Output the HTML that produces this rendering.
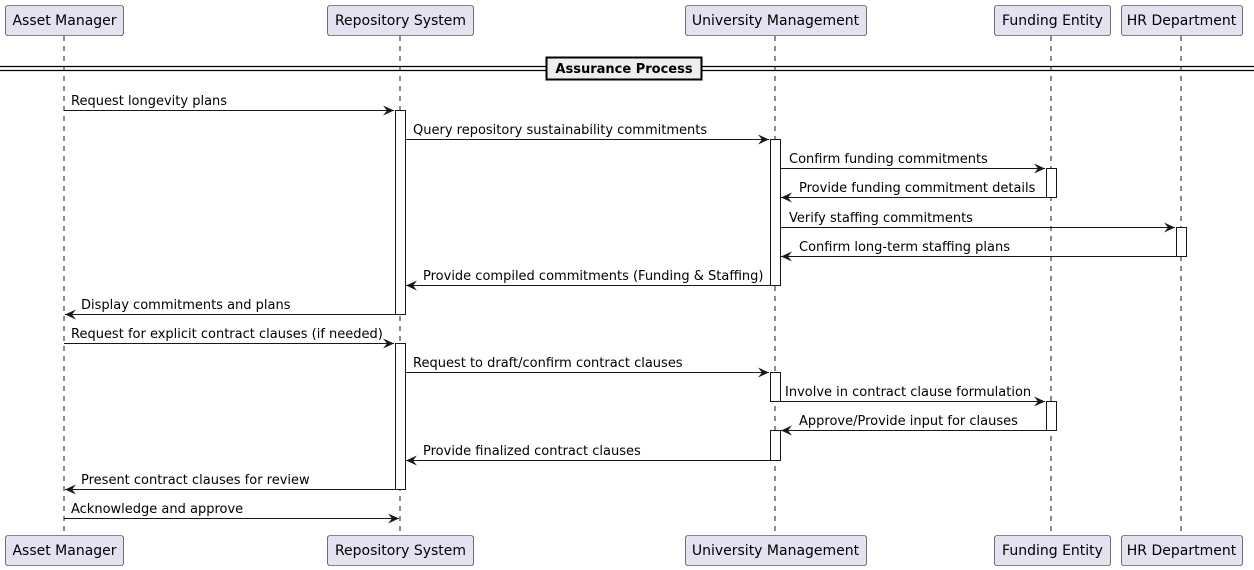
<!DOCTYPE html>
<html><head><meta charset="utf-8"><style>
html,body{margin:0;padding:0;background:#fff;}
svg{display:block;font-family:"DejaVu Sans","Liberation Sans",sans-serif;}
</style></head><body>
<svg width="1254" height="570" viewBox="0 0 1254 570" xmlns="http://www.w3.org/2000/svg">
<defs>
<marker id="a" markerWidth="12" markerHeight="10" refX="11" refY="5" orient="auto" markerUnits="userSpaceOnUse">
<path d="M0,0 L11,5 L0,10 L4,5 Z" fill="#181818"/>
</marker>
</defs>
<g stroke="#181818" stroke-width="1" stroke-dasharray="5,5">
<line x1="64" y1="36" x2="64" y2="535"/>
<line x1="400" y1="36" x2="400" y2="535"/>
<line x1="775" y1="36" x2="775" y2="535"/>
<line x1="1051" y1="36" x2="1051" y2="535"/>
<line x1="1181" y1="36" x2="1181" y2="535"/>
</g>
<g fill="#E2E2F0" stroke="#181818" stroke-width="0.6">
<rect x="5.5" y="5.5" width="118" height="30" rx="2.5"/>
<rect x="327.5" y="5.5" width="146" height="30" rx="2.5"/>
<rect x="685.5" y="5.5" width="181" height="30" rx="2.5"/>
<rect x="994.5" y="5.5" width="116" height="30" rx="2.5"/>
<rect x="1121.5" y="5.5" width="121" height="30" rx="2.5"/>
<rect x="5.5" y="535.5" width="118" height="30" rx="2.5"/>
<rect x="327.5" y="535.5" width="146" height="30" rx="2.5"/>
<rect x="685.5" y="535.5" width="181" height="30" rx="2.5"/>
<rect x="994.5" y="535.5" width="116" height="30" rx="2.5"/>
<rect x="1121.5" y="535.5" width="121" height="30" rx="2.5"/>
</g>
<g font-size="14" fill="#000" text-anchor="middle">
<text x="64.5" y="25">Asset Manager</text>
<text x="400.5" y="25">Repository System</text>
<text x="775.5" y="25">University Management</text>
<text x="1052.5" y="25">Funding Entity</text>
<text x="1181.5" y="25">HR Department</text>
<text x="64.5" y="555">Asset Manager</text>
<text x="400.5" y="555">Repository System</text>
<text x="775.5" y="555">University Management</text>
<text x="1052.5" y="555">Funding Entity</text>
<text x="1181.5" y="555">HR Department</text>
</g>
<g stroke="#000" stroke-width="1.2">
<line x1="0" y1="66.5" x2="1254" y2="66.5"/>
<line x1="0" y1="70.5" x2="1254" y2="70.5"/>
</g>
<rect x="546.5" y="57.5" width="155" height="22" fill="#EEEEEE" stroke="#000" stroke-width="2"/>
<text x="624" y="73" font-size="13" font-weight="bold" text-anchor="middle">Assurance Process</text>
<g fill="#fff" stroke="#181818" stroke-width="1">
<rect x="395.5" y="110.5" width="10" height="204"/>
<rect x="395.5" y="343.5" width="10" height="146"/>
<rect x="770.5" y="139.5" width="10" height="146"/>
<rect x="770.5" y="372.5" width="10" height="29"/>
<rect x="770.5" y="430.5" width="10" height="30"/>
<rect x="1046.5" y="168.5" width="10" height="29"/>
<rect x="1046.5" y="401.5" width="10" height="29"/>
<rect x="1176.5" y="227.5" width="10" height="29"/>
</g>
<g stroke="#181818" stroke-width="1" marker-end="url(#a)">
<line x1="64" y1="110.5" x2="394" y2="110.5"/>
<line x1="405" y1="139.5" x2="769" y2="139.5"/>
<line x1="780" y1="168.5" x2="1045" y2="168.5"/>
<line x1="1046" y1="197.5" x2="781" y2="197.5"/>
<line x1="780" y1="227.5" x2="1175" y2="227.5"/>
<line x1="1176" y1="256.5" x2="781" y2="256.5"/>
<line x1="770" y1="285.5" x2="406" y2="285.5"/>
<line x1="395" y1="314.5" x2="65" y2="314.5"/>
<line x1="64" y1="343.5" x2="394" y2="343.5"/>
<line x1="405" y1="372.5" x2="769" y2="372.5"/>
<line x1="780" y1="401.5" x2="1045" y2="401.5"/>
<line x1="1046" y1="430.5" x2="781" y2="430.5"/>
<line x1="770" y1="460.5" x2="406" y2="460.5"/>
<line x1="395" y1="489.5" x2="65" y2="489.5"/>
<line x1="64" y1="518.5" x2="399" y2="518.5"/>
</g>
<g font-size="13" fill="#000">
<text x="71" y="105">Request longevity plans</text>
<text x="413" y="134">Query repository sustainability commitments</text>
<text x="789" y="163">Confirm funding commitments</text>
<text x="799" y="192">Provide funding commitment details</text>
<text x="789" y="222">Verify staffing commitments</text>
<text x="799" y="251">Confirm long-term staffing plans</text>
<text x="423" y="280">Provide compiled commitments (Funding &amp; Staffing)</text>
<text x="81" y="309">Display commitments and plans</text>
<text x="71" y="338">Request for explicit contract clauses (if needed)</text>
<text x="413" y="367">Request to draft/confirm contract clauses</text>
<text x="785" y="396">Involve in contract clause formulation</text>
<text x="799" y="425">Approve/Provide input for clauses</text>
<text x="423" y="455">Provide finalized contract clauses</text>
<text x="81" y="484">Present contract clauses for review</text>
<text x="71" y="513">Acknowledge and approve</text>
</g>
</svg>
</body></html>
